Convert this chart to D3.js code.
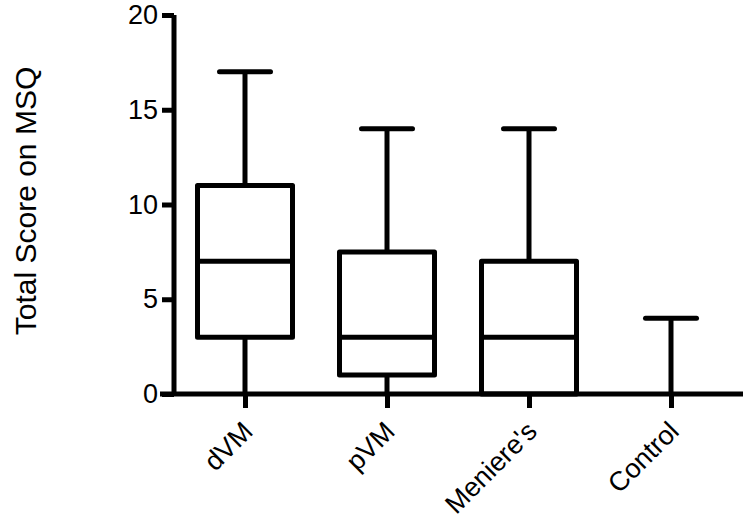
<!DOCTYPE html>
<html><head><meta charset="utf-8">
<script src="https://cdn.jsdelivr.net/npm/d3@7"></script>
<style>body{margin:0;background:#fff}svg{display:block}text{font-family:"Liberation Sans",Arial,sans-serif;fill:#000}</style>
</head><body><div id="chart"></div>
<script>
const categories = ["dVM", "pVM", "Meniere's", "Control"];
const mins = [0, 0, 0, 0];
const q1s = [3, 1, 0, 0];
const medians = [7, 3, 3, 0];
const q3s = [11, 7.5, 7, 0];
const maxs = [17, 14, 14, 4];
const yTicks = [0, 5, 10, 15, 20];
const yTitle = "Total Score on MSQ";

const W = 750, H = 523;
const svg = d3.select("#chart").append("svg").attr("width", W).attr("height", H);
const y = d3.scaleLinear().domain([0, 20]).range([394, 15]);
const x = d3.scalePoint().domain(categories).range([245, 671]);
const lw = 5;

// y axis
const ya = svg.append("g").attr("transform", "translate(174,0)")
  .call(d3.axisLeft(y).tickValues(yTicks).tickSize(12).tickPadding(4).tickSizeOuter(0));
ya.select(".domain").attr("stroke", "#000").attr("stroke-width", lw).attr("d", `M0,${y(20)}V${y(0)}`);
ya.selectAll(".tick line").attr("stroke", "#000").attr("stroke-width", lw);
ya.selectAll(".tick text").attr("font-size", 27).attr("font-family", "Liberation Sans, Arial, sans-serif").attr("fill", "#000");

// x axis
const xa = svg.append("g").attr("transform", `translate(0,${y(0)})`)
  .call(d3.axisBottom(x).tickSize(14).tickPadding(0).tickSizeOuter(0));
xa.select(".domain").attr("stroke", "#000").attr("stroke-width", lw).attr("d", "M160,0H743");
xa.selectAll(".tick line").attr("stroke", "#000").attr("stroke-width", lw);
xa.selectAll(".tick text").attr("font-size", 27).attr("font-family", "Liberation Sans, Arial, sans-serif").attr("fill", "#000")
  .attr("text-anchor", "end").attr("dy", null).attr("y", null)
  .attr("transform", "translate(9,39) rotate(-45)");

// boxes
const data = categories.map((c, i) => ({c, min: mins[i], q1: q1s[i], med: medians[i], q3: q3s[i], max: maxs[i]}));
const boxW = 95, capW = 51;
const g = svg.append("g").attr("stroke", "#000").attr("stroke-width", lw).attr("fill", "none");
data.forEach(d => {
  const cx = x(d.c);
  g.append("line").attr("x1", cx).attr("x2", cx).attr("y1", y(d.q3)).attr("y2", y(d.max));
  g.append("line").attr("x1", cx).attr("x2", cx).attr("y1", y(d.q1)).attr("y2", y(d.min));
  g.append("line").attr("x1", cx - capW/2).attr("x2", cx + capW/2).attr("y1", y(d.max)).attr("y2", y(d.max)).attr("stroke-linecap", "round");
  if (d.q3 > d.q1) {
    g.append("rect").attr("x", cx - boxW/2).attr("width", boxW).attr("y", y(d.q3)).attr("height", y(d.q1) - y(d.q3)).attr("fill", "none").attr("stroke-linejoin", "round");
    g.append("line").attr("x1", cx - boxW/2).attr("x2", cx + boxW/2).attr("y1", y(d.med)).attr("y2", y(d.med));
  }
});

// y title
svg.append("text").attr("transform", "translate(36,201) rotate(-90)").attr("text-anchor", "middle")
  .attr("font-size", 30).text(yTitle);
</script></body></html>
